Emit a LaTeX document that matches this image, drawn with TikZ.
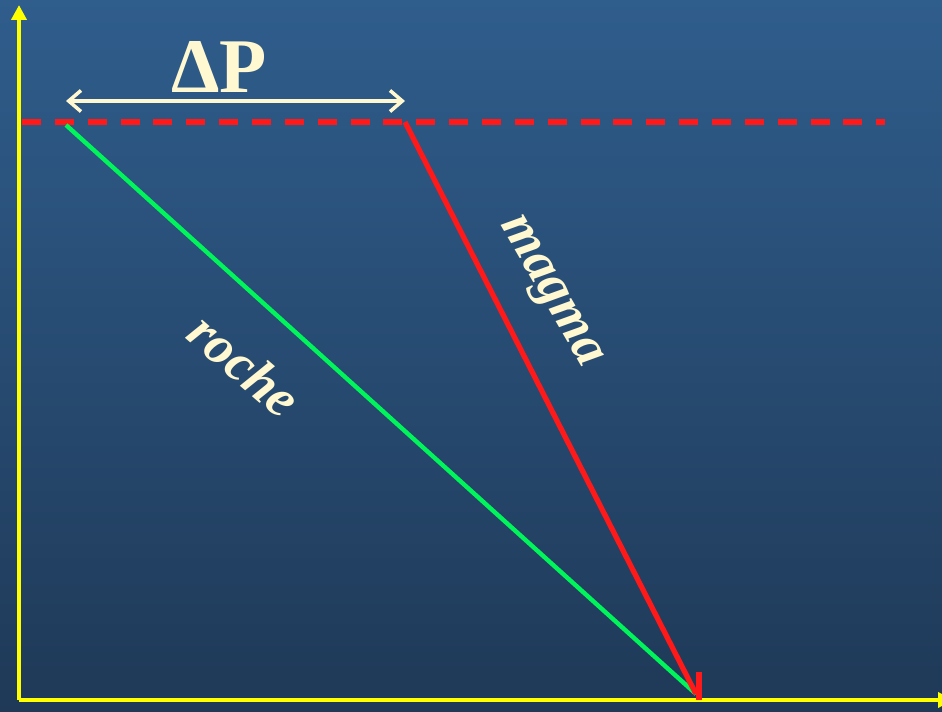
\documentclass[tikz,border=0pt]{standalone}
\usepackage{fontspec}
\setmainfont{Liberation Serif}
\usetikzlibrary{arrows.meta}
\definecolor{bgtop}{RGB}{47,93,140}
\definecolor{bgbot}{RGB}{31,57,87}
\definecolor{axisyel}{RGB}{255,255,0}
\definecolor{cream}{RGB}{255,248,208}
\definecolor{rockgreen}{RGB}{0,245,90}
\definecolor{magred}{RGB}{255,25,25}
\tikzset{
  axisline/.style={axisyel, line width=2.8pt, -{Triangle[length=8.5pt,width=8.5pt]}},
  lbl/.style={cream, font=\fontsize{31}{34}\selectfont\bfseries\itshape},
}
\begin{document}
\begin{tikzpicture}[x=0.02cm,y=-0.02cm]
 \shade [top color=bgtop, bottom color=bgbot] (0,0) rectangle (942,712);
 \useasboundingbox (0,0) rectangle (942,712);
 % points
 \coordinate (O) at (19,700);
 \coordinate (ytip) at (19,5);
 \coordinate (xtip) at (953,700);
 \coordinate (dashL) at (22,122);
 \coordinate (dashR) at (885,122);
 \coordinate (rocheTop) at (66,125);
 \coordinate (magmaTop) at (405,122);
 \coordinate (base) at (696,694);
 \coordinate (tickTop) at (699,672);
 \coordinate (tickBot) at (699,700);
 \coordinate (dpL) at (66,101);
 \coordinate (dpR) at (405,101);
 % axes
 \draw [axisline] (O) -- (ytip);
 \draw [axisline] (O) -- (xtip);
 % reference pressure
 \draw [magred, line width=3pt, dash pattern=on 10.8pt off 7.9pt] (dashL) -- (dashR);
 \draw [cream, line width=2pt, {Straight Barb[length=7pt,width=12pt]}-{Straight Barb[length=7pt,width=12pt]}] (dpL) -- (dpR);
 \node [cream, anchor=base, font=\fontsize{44}{48}\selectfont\bfseries] (dP) at (219,93) {ΔP};
 % gradients
 \draw [rockgreen, line width=2.5pt] (rocheTop) -- (base);
 \draw [magred, line width=3pt] (magmaTop) -- (base);
 \draw [magred, line width=3.4pt] (tickTop) -- (tickBot);
 \node [lbl, rotate=-41] (roche) at (245,365) {roche};
 \node [lbl, rotate=-60] (magma) at (548,293) {magma};
\end{tikzpicture}
\end{document}
